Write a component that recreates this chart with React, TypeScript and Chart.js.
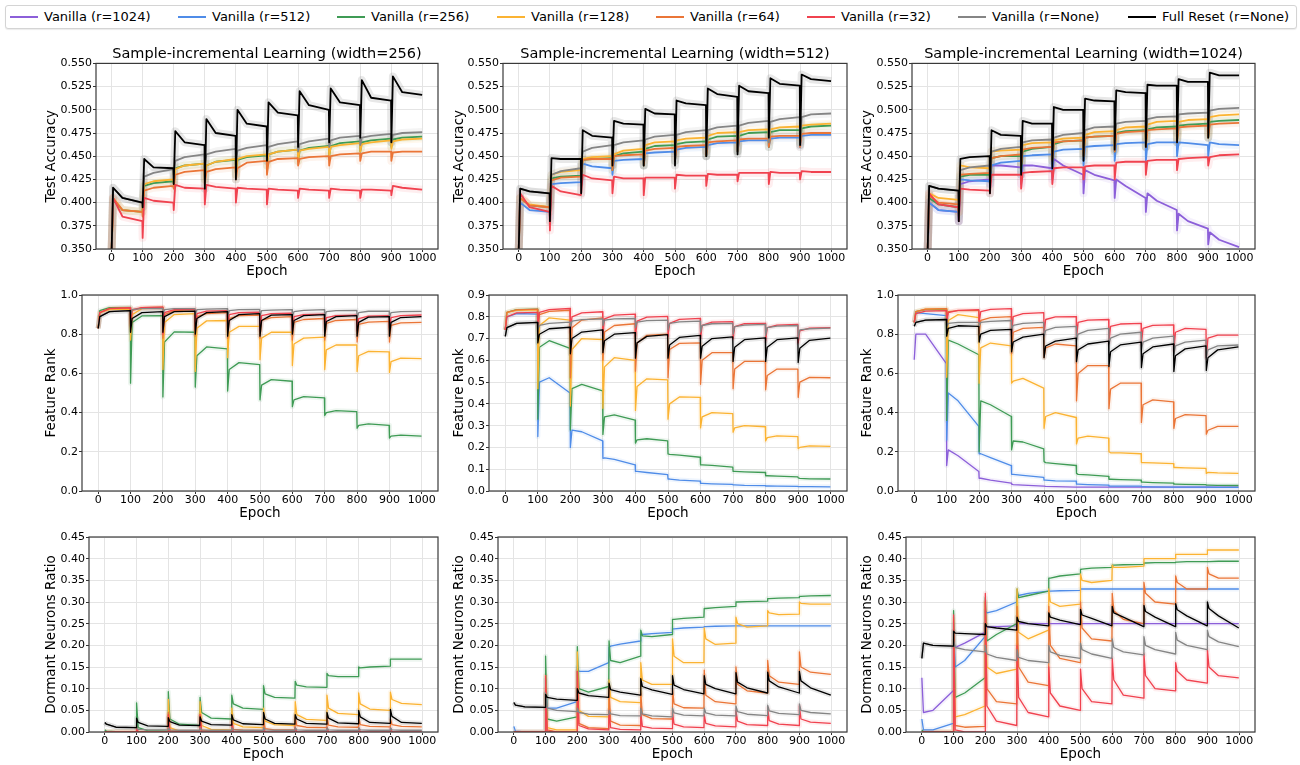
import { useEffect, useRef } from 'react';
import { Chart, registerables } from 'chart.js';

Chart.register(...registerables);
Chart.defaults.font.family = 'DejaVu Sans';

// ---------------- series meta ----------------
const seriesNames = [
  'Vanilla (r=1024)', 'Vanilla (r=512)', 'Vanilla (r=256)', 'Vanilla (r=128)',
  'Vanilla (r=64)', 'Vanilla (r=32)', 'Vanilla (r=None)', 'Full Reset (r=None)',
];
const seriesColors = ['#8c5fd9', '#4f8ce8', '#3f9b55', '#fbb332', '#ea7537', '#f0424f', '#858585', '#000000'];

// ---------------- axes ----------------
const xTicks = [0, 100, 200, 300, 400, 500, 600, 700, 800, 900, 1000];
const taskStarts = [0, 100, 200, 300, 400, 500, 600, 700, 800, 900];
const taskOffsets = [0, 5, 35, 99];
const accTicks = [0.35, 0.375, 0.4, 0.425, 0.45, 0.475, 0.5, 0.525, 0.55];
const rankTicks10 = [0, 0.2, 0.4, 0.6, 0.8, 1.0];
const rankTicks09 = [0, 0.1, 0.2, 0.3, 0.4, 0.5, 0.6, 0.7, 0.8, 0.9];
const dormTicks = [0, 0.05, 0.1, 0.15, 0.2, 0.25, 0.3, 0.35, 0.4, 0.45];

// ---------------- data: 4 values per task (epoch offsets 0,5,35,99) ----------------
// Test accuracy, width=256
const acc256R256 = [0.345,0.403,0.392,0.390, 0.390,0.418,0.421,0.423, 0.420,0.437,0.440,0.442, 0.425,0.440,0.444,0.446, 0.430,0.446,0.449,0.451, 0.440,0.452,0.455,0.457, 0.445,0.456,0.459,0.461, 0.450,0.461,0.464,0.466, 0.455,0.465,0.467,0.469, 0.460,0.468,0.470,0.471];
const acc256R128 = [0.345,0.405,0.392,0.390, 0.390,0.420,0.423,0.425, 0.420,0.436,0.440,0.442, 0.425,0.440,0.444,0.447, 0.430,0.447,0.450,0.452, 0.440,0.452,0.455,0.457, 0.445,0.456,0.458,0.460, 0.450,0.460,0.462,0.464, 0.455,0.463,0.465,0.467, 0.458,0.466,0.468,0.469];
const acc256R64 = [0.345,0.405,0.392,0.390, 0.385,0.413,0.416,0.418, 0.415,0.430,0.433,0.435, 0.420,0.433,0.436,0.438, 0.425,0.437,0.443,0.445, 0.430,0.444,0.447,0.448, 0.440,0.447,0.449,0.450, 0.440,0.450,0.452,0.453, 0.445,0.453,0.455,0.455, 0.445,0.454,0.455,0.455];
const acc256R32 = [0.345,0.405,0.385,0.380, 0.362,0.405,0.402,0.400, 0.392,0.419,0.416,0.415, 0.398,0.419,0.417,0.415, 0.400,0.416,0.415,0.414, 0.398,0.415,0.414,0.413, 0.405,0.415,0.414,0.413, 0.405,0.415,0.414,0.413, 0.405,0.414,0.414,0.413, 0.408,0.418,0.416,0.414];
const acc256None = [0.345,0.416,0.405,0.400, 0.400,0.428,0.432,0.436, 0.430,0.445,0.449,0.452, 0.440,0.452,0.455,0.458, 0.445,0.456,0.459,0.462, 0.450,0.460,0.463,0.466, 0.455,0.463,0.466,0.469, 0.460,0.467,0.470,0.472, 0.462,0.470,0.472,0.474, 0.465,0.473,0.475,0.476];
const acc256Reset = [0.345,0.416,0.405,0.400, 0.395,0.447,0.438,0.437, 0.420,0.477,0.465,0.462, 0.415,0.490,0.475,0.472, 0.425,0.500,0.485,0.482, 0.445,0.508,0.497,0.494, 0.460,0.520,0.505,0.500, 0.465,0.523,0.508,0.505, 0.470,0.532,0.513,0.510, 0.465,0.536,0.519,0.516];

// Test accuracy, width=512
const acc512R512 = [0.345,0.400,0.392,0.390, 0.385,0.420,0.421,0.422, 0.425,0.442,0.439,0.437, 0.430,0.445,0.446,0.447, 0.440,0.453,0.454,0.455, 0.445,0.457,0.459,0.460, 0.450,0.462,0.464,0.465, 0.455,0.466,0.467,0.467, 0.460,0.469,0.470,0.470, 0.460,0.472,0.473,0.473];
const acc512R256 = [0.345,0.405,0.397,0.395, 0.395,0.426,0.428,0.429, 0.430,0.446,0.447,0.448, 0.435,0.450,0.453,0.455, 0.440,0.458,0.461,0.462, 0.445,0.463,0.465,0.466, 0.450,0.468,0.471,0.472, 0.455,0.472,0.475,0.476, 0.460,0.476,0.478,0.478, 0.465,0.480,0.482,0.483];
const acc512R128 = [0.345,0.405,0.398,0.395, 0.395,0.430,0.433,0.435, 0.430,0.447,0.449,0.450, 0.440,0.452,0.456,0.458, 0.445,0.462,0.465,0.466, 0.450,0.467,0.469,0.470, 0.455,0.472,0.475,0.476, 0.460,0.476,0.478,0.479, 0.465,0.479,0.481,0.482, 0.470,0.483,0.484,0.485];
const acc512R64 = [0.345,0.405,0.397,0.395, 0.390,0.424,0.427,0.428, 0.430,0.446,0.447,0.447, 0.435,0.450,0.451,0.452, 0.440,0.456,0.458,0.459, 0.445,0.460,0.461,0.462, 0.450,0.465,0.466,0.467, 0.455,0.468,0.469,0.469, 0.460,0.471,0.472,0.472, 0.460,0.474,0.475,0.475];
const acc512R32 = [0.345,0.410,0.395,0.390, 0.370,0.418,0.412,0.408, 0.410,0.430,0.426,0.424, 0.410,0.428,0.426,0.426, 0.408,0.427,0.427,0.427, 0.415,0.430,0.429,0.429, 0.418,0.431,0.430,0.430, 0.423,0.432,0.432,0.432, 0.420,0.433,0.432,0.432, 0.425,0.434,0.433,0.433];
const acc512None = [0.345,0.415,0.412,0.410, 0.400,0.430,0.434,0.437, 0.440,0.455,0.459,0.462, 0.450,0.462,0.465,0.467, 0.455,0.468,0.471,0.473, 0.455,0.473,0.476,0.478, 0.455,0.478,0.481,0.483, 0.455,0.483,0.486,0.488, 0.465,0.487,0.490,0.492, 0.462,0.492,0.495,0.496];
const acc512Reset = [0.345,0.415,0.412,0.410, 0.380,0.448,0.447,0.447, 0.410,0.478,0.472,0.470, 0.440,0.488,0.485,0.484, 0.440,0.501,0.496,0.495, 0.440,0.510,0.507,0.505, 0.450,0.523,0.517,0.514, 0.452,0.526,0.520,0.518, 0.470,0.534,0.528,0.526, 0.462,0.538,0.533,0.531];

// Test accuracy, width=1024
const acc1024R1024 = [0.345,0.400,0.392,0.390, 0.380,0.420,0.423,0.425, 0.420,0.440,0.440,0.438, 0.420,0.440,0.440,0.437, 0.425,0.447,0.440,0.430, 0.410,0.435,0.430,0.424, 0.405,0.425,0.418,0.405, 0.390,0.410,0.402,0.392, 0.370,0.388,0.380,0.372, 0.355,0.368,0.360,0.352];
const acc1024R512 = [0.345,0.400,0.392,0.390, 0.380,0.425,0.424,0.423, 0.420,0.440,0.443,0.445, 0.430,0.450,0.451,0.452, 0.435,0.455,0.457,0.458, 0.440,0.460,0.461,0.462, 0.445,0.463,0.464,0.465, 0.445,0.463,0.465,0.465, 0.450,0.465,0.464,0.462, 0.450,0.465,0.463,0.462];
const acc1024R256 = [0.345,0.405,0.398,0.395, 0.385,0.428,0.430,0.430, 0.425,0.448,0.450,0.450, 0.435,0.455,0.458,0.460, 0.445,0.463,0.466,0.467, 0.450,0.470,0.471,0.472, 0.455,0.475,0.477,0.478, 0.460,0.479,0.481,0.482, 0.465,0.483,0.484,0.485, 0.470,0.487,0.488,0.489];
const acc1024R128 = [0.345,0.410,0.405,0.403, 0.390,0.440,0.438,0.437, 0.430,0.455,0.456,0.457, 0.440,0.462,0.464,0.465, 0.450,0.467,0.469,0.470, 0.455,0.473,0.476,0.477, 0.460,0.478,0.481,0.482, 0.465,0.484,0.487,0.488, 0.470,0.487,0.489,0.490, 0.475,0.492,0.494,0.495];
const acc1024R64 = [0.345,0.408,0.400,0.398, 0.390,0.430,0.431,0.432, 0.430,0.448,0.450,0.452, 0.440,0.457,0.459,0.460, 0.445,0.465,0.466,0.467, 0.450,0.470,0.471,0.472, 0.455,0.474,0.476,0.477, 0.460,0.478,0.479,0.480, 0.465,0.481,0.482,0.483, 0.470,0.484,0.485,0.486];
const acc1024R32 = [0.345,0.410,0.398,0.395, 0.380,0.415,0.414,0.413, 0.410,0.430,0.430,0.430, 0.415,0.432,0.433,0.434, 0.420,0.437,0.438,0.438, 0.425,0.439,0.440,0.440, 0.425,0.443,0.444,0.444, 0.430,0.445,0.446,0.446, 0.435,0.447,0.448,0.449, 0.440,0.449,0.451,0.452];
const acc1024None = [0.345,0.418,0.415,0.413, 0.400,0.435,0.438,0.440, 0.430,0.455,0.458,0.460, 0.450,0.465,0.467,0.468, 0.455,0.470,0.473,0.475, 0.460,0.478,0.481,0.482, 0.465,0.485,0.487,0.488, 0.470,0.490,0.492,0.493, 0.475,0.495,0.496,0.497, 0.480,0.499,0.501,0.502];
const acc1024Reset = [0.345,0.418,0.415,0.413, 0.380,0.447,0.449,0.450, 0.410,0.478,0.473,0.472, 0.430,0.488,0.485,0.485, 0.437,0.503,0.500,0.500, 0.445,0.512,0.510,0.509, 0.457,0.521,0.519,0.518, 0.460,0.527,0.526,0.526, 0.465,0.533,0.530,0.530, 0.470,0.540,0.537,0.537];

// Feature rank, width=256
const rank256R256 = [0.83,0.92,0.935,0.937, 0.55,0.86,0.893,0.895, 0.48,0.76,0.812,0.810, 0.53,0.69,0.735,0.725, 0.51,0.62,0.655,0.645, 0.465,0.54,0.568,0.560, 0.43,0.465,0.482,0.475, 0.385,0.40,0.410,0.405, 0.32,0.335,0.342,0.335, 0.27,0.28,0.285,0.280];
const rank256R128 = [0.83,0.91,0.925,0.928, 0.77,0.90,0.930,0.935, 0.62,0.86,0.900,0.905, 0.61,0.83,0.868,0.870, 0.68,0.81,0.840,0.840, 0.67,0.78,0.810,0.810, 0.64,0.75,0.780,0.785, 0.62,0.72,0.745,0.745, 0.61,0.69,0.712,0.710, 0.605,0.66,0.678,0.675];
const rank256R64 = [0.83,0.91,0.932,0.935, 0.83,0.92,0.935,0.938, 0.78,0.90,0.920,0.925, 0.79,0.89,0.905,0.910, 0.78,0.88,0.895,0.898, 0.78,0.87,0.885,0.890, 0.77,0.86,0.875,0.880, 0.77,0.855,0.870,0.875, 0.76,0.85,0.862,0.865, 0.76,0.845,0.858,0.860];
const rank256R32 = [0.83,0.91,0.930,0.935, 0.85,0.925,0.935,0.938, 0.80,0.91,0.925,0.928, 0.82,0.905,0.918,0.920, 0.82,0.90,0.910,0.912, 0.82,0.895,0.905,0.907, 0.82,0.89,0.900,0.902, 0.82,0.885,0.895,0.897, 0.82,0.88,0.892,0.895, 0.83,0.885,0.895,0.898];
const rank256None = [0.83,0.89,0.915,0.920, 0.90,0.925,0.930,0.932, 0.90,0.925,0.930,0.930, 0.90,0.925,0.928,0.930, 0.895,0.92,0.925,0.927, 0.895,0.92,0.923,0.925, 0.89,0.915,0.922,0.925, 0.89,0.915,0.920,0.922, 0.885,0.91,0.917,0.918, 0.885,0.91,0.915,0.916];
const rank256Reset = [0.83,0.89,0.915,0.920, 0.81,0.88,0.910,0.915, 0.81,0.89,0.915,0.918, 0.80,0.88,0.910,0.915, 0.79,0.87,0.900,0.905, 0.79,0.87,0.897,0.900, 0.80,0.87,0.895,0.900, 0.79,0.865,0.890,0.895, 0.79,0.86,0.887,0.890, 0.79,0.86,0.885,0.890];

// Feature rank, width=512
const rank512R512 = [0.74,0.80,0.815,0.812, 0.25,0.50,0.520,0.450, 0.20,0.28,0.272,0.230, 0.15,0.152,0.145,0.120, 0.09,0.09,0.085,0.075, 0.055,0.055,0.050,0.045, 0.035,0.035,0.033,0.030, 0.028,0.028,0.026,0.025, 0.023,0.023,0.022,0.021, 0.020,0.020,0.020,0.019];
const rank512R256 = [0.74,0.82,0.833,0.835, 0.33,0.66,0.690,0.655, 0.28,0.47,0.490,0.460, 0.26,0.34,0.350,0.325, 0.22,0.235,0.240,0.230, 0.17,0.168,0.165,0.155, 0.12,0.12,0.118,0.110, 0.09,0.09,0.088,0.085, 0.07,0.07,0.068,0.065, 0.06,0.058,0.056,0.055];
const rank512R128 = [0.74,0.82,0.830,0.832, 0.47,0.76,0.795,0.785, 0.39,0.65,0.700,0.695, 0.38,0.57,0.612,0.600, 0.37,0.48,0.515,0.510, 0.33,0.40,0.432,0.430, 0.29,0.34,0.360,0.355, 0.27,0.29,0.300,0.295, 0.23,0.245,0.253,0.250, 0.195,0.20,0.207,0.205];
const rank512R64 = [0.74,0.82,0.832,0.835, 0.72,0.81,0.825,0.830, 0.52,0.75,0.785,0.795, 0.60,0.73,0.760,0.768, 0.55,0.68,0.715,0.720, 0.52,0.65,0.678,0.680, 0.49,0.60,0.635,0.635, 0.47,0.56,0.595,0.595, 0.465,0.53,0.560,0.560, 0.43,0.50,0.522,0.520];
const rank512R32 = [0.74,0.80,0.818,0.820, 0.76,0.82,0.833,0.838, 0.73,0.80,0.818,0.823, 0.72,0.79,0.808,0.812, 0.71,0.78,0.798,0.802, 0.71,0.77,0.788,0.793, 0.70,0.76,0.775,0.778, 0.70,0.755,0.768,0.770, 0.69,0.75,0.762,0.765, 0.68,0.735,0.748,0.750];
const rank512None = [0.71,0.75,0.770,0.774, 0.74,0.76,0.770,0.775, 0.75,0.78,0.787,0.790, 0.76,0.785,0.790,0.792, 0.75,0.775,0.782,0.785, 0.74,0.77,0.777,0.780, 0.73,0.76,0.768,0.770, 0.72,0.755,0.762,0.765, 0.715,0.75,0.757,0.760, 0.70,0.74,0.745,0.748];
const rank512Reset = [0.71,0.75,0.770,0.774, 0.68,0.72,0.745,0.752, 0.63,0.70,0.730,0.740, 0.635,0.69,0.720,0.727, 0.61,0.68,0.710,0.718, 0.61,0.67,0.705,0.715, 0.61,0.665,0.700,0.708, 0.595,0.66,0.695,0.703, 0.595,0.66,0.695,0.703, 0.59,0.655,0.692,0.702];

// Feature rank, width=1024
const rank1024R1024 = [0.67,0.80,0.800,0.650, 0.13,0.21,0.180,0.100, 0.065,0.065,0.055,0.040, 0.035,0.033,0.030,0.025, 0.025,0.024,0.022,0.020, 0.02,0.02,0.02,0.02, 0.02,0.02,0.02,0.02, 0.02,0.02,0.02,0.02, 0.02,0.02,0.02,0.02, 0.02,0.02,0.02,0.02];
const rank1024R512 = [0.86,0.91,0.905,0.895, 0.26,0.50,0.460,0.330, 0.19,0.19,0.170,0.130, 0.085,0.085,0.080,0.070, 0.055,0.055,0.052,0.050, 0.035,0.035,0.033,0.030, 0.025,0.025,0.025,0.025, 0.022,0.022,0.021,0.020, 0.02,0.02,0.02,0.02, 0.02,0.02,0.018,0.018];
const rank1024R256 = [0.86,0.915,0.925,0.925, 0.36,0.77,0.750,0.695, 0.20,0.46,0.440,0.380, 0.21,0.255,0.250,0.215, 0.15,0.145,0.140,0.130, 0.09,0.085,0.082,0.075, 0.06,0.06,0.058,0.055, 0.045,0.045,0.043,0.040, 0.035,0.035,0.034,0.033, 0.03,0.03,0.029,0.028];
const rank1024R128 = [0.86,0.915,0.928,0.930, 0.58,0.87,0.900,0.885, 0.55,0.73,0.755,0.740, 0.55,0.56,0.575,0.525, 0.32,0.38,0.400,0.375, 0.24,0.27,0.280,0.270, 0.20,0.195,0.195,0.190, 0.145,0.145,0.143,0.140, 0.12,0.12,0.118,0.115, 0.09,0.095,0.092,0.090];
const rank1024R64 = [0.86,0.915,0.928,0.930, 0.88,0.915,0.920,0.920, 0.80,0.87,0.885,0.890, 0.70,0.81,0.830,0.835, 0.68,0.73,0.750,0.740, 0.46,0.60,0.640,0.640, 0.42,0.52,0.550,0.550, 0.35,0.44,0.465,0.455, 0.32,0.37,0.390,0.385, 0.29,0.31,0.330,0.330];
const rank1024R32 = [0.86,0.905,0.918,0.920, 0.86,0.91,0.922,0.925, 0.86,0.915,0.927,0.930, 0.80,0.89,0.905,0.910, 0.80,0.875,0.888,0.890, 0.78,0.86,0.872,0.875, 0.76,0.84,0.852,0.855, 0.75,0.83,0.845,0.848, 0.72,0.81,0.830,0.825, 0.68,0.78,0.795,0.795];
const rank1024None = [0.84,0.86,0.872,0.875, 0.84,0.855,0.860,0.860, 0.84,0.86,0.865,0.870, 0.82,0.845,0.855,0.860, 0.79,0.82,0.835,0.840, 0.77,0.80,0.820,0.830, 0.75,0.78,0.800,0.810, 0.72,0.76,0.780,0.790, 0.70,0.74,0.760,0.770, 0.68,0.72,0.740,0.745];
const rank1024Reset = [0.84,0.86,0.872,0.875, 0.79,0.83,0.843,0.840, 0.76,0.80,0.820,0.825, 0.71,0.76,0.785,0.800, 0.68,0.74,0.765,0.780, 0.66,0.72,0.750,0.765, 0.635,0.71,0.745,0.760, 0.63,0.70,0.735,0.750, 0.61,0.69,0.725,0.740, 0.615,0.68,0.720,0.735];

// Dormant neurons ratio, width=256
const dorm256R256 = [0.005,0.002,0.001,0.001, 0.067,0.010,0.003,0.002, 0.093,0.030,0.018,0.015, 0.080,0.045,0.032,0.030, 0.085,0.065,0.055,0.052, 0.107,0.088,0.080,0.078, 0.117,0.108,0.104,0.103, 0.135,0.130,0.128,0.128, 0.150,0.148,0.150,0.152, 0.168,0.168,0.168,0.168];
const dorm256R128 = [0,0,0,0, 0.010,0.001,0,0, 0.075,0.010,0.002,0.001, 0.070,0.015,0.006,0.005, 0.055,0.020,0.012,0.010, 0.055,0.025,0.017,0.015, 0.070,0.040,0.029,0.027, 0.085,0.055,0.043,0.040, 0.090,0.065,0.053,0.050, 0.092,0.075,0.066,0.063];
const dorm256R64 = [0,0,0,0, 0.005,0,0,0, 0.045,0.003,0.001,0, 0.040,0.004,0.002,0.002, 0.030,0.006,0.004,0.003, 0.030,0.008,0.005,0.005, 0.035,0.015,0.011,0.010, 0.035,0.016,0.012,0.011, 0.035,0.017,0.013,0.012, 0.030,0.017,0.013,0.012];
const dorm256R32 = [0,0,0,0, 0.010,0,0,0, 0.040,0.001,0,0, 0.040,0.001,0,0, 0.020,0.001,0,0, 0.010,0.001,0,0, 0.010,0.001,0,0, 0.010,0.001,0,0, 0.010,0.001,0,0, 0.010,0.001,0,0];
const dorm256None = [0.022,0.018,0.011,0.010, 0.010,0.006,0.005,0.005, 0.010,0.005,0.004,0.004, 0.010,0.005,0.004,0.004, 0.010,0.005,0.004,0.004, 0.010,0.005,0.004,0.004, 0.010,0.005,0.004,0.004, 0.010,0.005,0.004,0.004, 0.010,0.005,0.004,0.004, 0.010,0.005,0.004,0.004];
const dorm256Reset = [0.022,0.018,0.011,0.010, 0.032,0.022,0.014,0.013, 0.033,0.024,0.016,0.015, 0.035,0.025,0.017,0.016, 0.040,0.028,0.019,0.017, 0.045,0.030,0.020,0.018, 0.040,0.030,0.020,0.018, 0.045,0.032,0.021,0.019, 0.050,0.035,0.022,0.020, 0.052,0.036,0.022,0.020];

// Dormant neurons ratio, width=512
const dorm512R512 = [0.013,0.002,0,0, 0.120,0.055,0.055,0.070, 0.150,0.140,0.140,0.160, 0.195,0.198,0.203,0.210, 0.225,0.225,0.227,0.230, 0.238,0.238,0.240,0.242, 0.243,0.243,0.244,0.245, 0.245,0.245,0.245,0.245, 0.245,0.245,0.245,0.245, 0.245,0.245,0.245,0.245];
const dorm512R256 = [0,0,0,0, 0.175,0.030,0.025,0.035, 0.197,0.100,0.092,0.105, 0.210,0.165,0.160,0.175, 0.235,0.222,0.220,0.225, 0.260,0.260,0.262,0.265, 0.285,0.285,0.287,0.290, 0.300,0.300,0.301,0.302, 0.308,0.308,0.309,0.310, 0.313,0.313,0.314,0.315];
const dorm512R128 = [0,0,0,0, 0.130,0.010,0.005,0.005, 0.185,0.050,0.036,0.035, 0.120,0.080,0.070,0.068, 0.160,0.120,0.110,0.110, 0.215,0.175,0.160,0.160, 0.240,0.215,0.202,0.205, 0.265,0.250,0.242,0.245, 0.280,0.275,0.271,0.272, 0.300,0.297,0.295,0.295];
const dorm512R64 = [0,0,0,0, 0.100,0.005,0,0, 0.140,0.020,0.010,0.008, 0.100,0.025,0.016,0.015, 0.090,0.040,0.031,0.030, 0.100,0.065,0.056,0.055, 0.143,0.085,0.070,0.065, 0.150,0.110,0.095,0.090, 0.165,0.130,0.115,0.110, 0.185,0.150,0.138,0.133];
const dorm512R32 = [0,0,0,0, 0.130,0.002,0,0, 0.140,0.015,0.007,0.005, 0.050,0.010,0.006,0.005, 0.045,0.013,0.009,0.008, 0.045,0.018,0.012,0.010, 0.040,0.020,0.014,0.012, 0.050,0.025,0.017,0.015, 0.055,0.026,0.018,0.015, 0.060,0.030,0.023,0.020];
const dorm512None = [0.068,0.062,0.058,0.057, 0.090,0.055,0.050,0.047, 0.055,0.045,0.041,0.040, 0.050,0.042,0.038,0.037, 0.055,0.042,0.037,0.035, 0.055,0.044,0.039,0.037, 0.055,0.044,0.039,0.037, 0.060,0.047,0.041,0.038, 0.062,0.049,0.043,0.040, 0.065,0.050,0.045,0.042];
const dorm512Reset = [0.068,0.062,0.058,0.057, 0.087,0.080,0.076,0.073, 0.100,0.090,0.084,0.080, 0.113,0.098,0.092,0.085, 0.123,0.105,0.097,0.087, 0.130,0.108,0.098,0.088, 0.130,0.110,0.100,0.088, 0.137,0.115,0.102,0.090, 0.138,0.118,0.104,0.090, 0.140,0.118,0.102,0.085];

// Dormant neurons ratio, width=1024
const dorm1024R1024 = [0.125,0.045,0.050,0.095, 0.195,0.195,0.205,0.230, 0.240,0.242,0.243,0.245, 0.250,0.250,0.250,0.250, 0.250,0.250,0.250,0.250, 0.250,0.250,0.250,0.250, 0.250,0.250,0.250,0.250, 0.250,0.250,0.250,0.250, 0.250,0.250,0.250,0.250, 0.250,0.250,0.250,0.250];
const dorm1024R512 = [0.030,0.005,0.005,0.020, 0.250,0.150,0.165,0.220, 0.280,0.275,0.280,0.300, 0.310,0.315,0.320,0.325, 0.325,0.325,0.326,0.327, 0.330,0.330,0.330,0.330, 0.330,0.330,0.330,0.330, 0.330,0.330,0.330,0.330, 0.330,0.330,0.330,0.330, 0.330,0.330,0.330,0.330];
const dorm1024R256 = [0.005,0.001,0,0, 0.280,0.080,0.090,0.125, 0.310,0.210,0.225,0.250, 0.330,0.310,0.315,0.325, 0.355,0.355,0.360,0.365, 0.375,0.376,0.378,0.380, 0.385,0.385,0.386,0.387, 0.390,0.390,0.391,0.391, 0.392,0.392,0.393,0.393, 0.393,0.393,0.394,0.394];
const dorm1024R128 = [0,0,0,0, 0.260,0.035,0.040,0.060, 0.300,0.150,0.135,0.145, 0.330,0.230,0.215,0.235, 0.330,0.300,0.290,0.295, 0.365,0.350,0.345,0.350, 0.385,0.380,0.380,0.383, 0.400,0.400,0.400,0.400, 0.410,0.410,0.410,0.410, 0.420,0.420,0.420,0.420];
const dorm1024R64 = [0,0,0,0, 0.200,0.015,0.011,0.013, 0.300,0.100,0.070,0.065, 0.290,0.150,0.115,0.107, 0.290,0.200,0.170,0.160, 0.300,0.240,0.215,0.210, 0.320,0.280,0.260,0.250, 0.345,0.320,0.300,0.295, 0.360,0.345,0.330,0.330, 0.380,0.365,0.355,0.355];
const dorm1024R32 = [0,0,0,0, 0.270,0.005,0,0, 0.320,0.060,0.025,0.015, 0.200,0.080,0.045,0.035, 0.150,0.090,0.060,0.050, 0.145,0.100,0.070,0.065, 0.170,0.120,0.085,0.078, 0.180,0.130,0.100,0.095, 0.160,0.140,0.120,0.113, 0.190,0.150,0.130,0.125];
const dorm1024None = [0.170,0.205,0.200,0.198, 0.210,0.195,0.190,0.185, 0.200,0.180,0.172,0.165, 0.190,0.172,0.165,0.160, 0.200,0.185,0.177,0.170, 0.205,0.190,0.180,0.170, 0.215,0.195,0.185,0.178, 0.220,0.200,0.190,0.180, 0.230,0.212,0.200,0.190, 0.235,0.220,0.208,0.197];
const dorm1024Reset = [0.170,0.205,0.200,0.198, 0.233,0.228,0.227,0.225, 0.250,0.243,0.240,0.235, 0.265,0.255,0.250,0.245, 0.275,0.265,0.258,0.248, 0.283,0.270,0.262,0.245, 0.290,0.275,0.265,0.243, 0.292,0.278,0.265,0.243, 0.296,0.282,0.268,0.245, 0.300,0.285,0.268,0.240];

// ---------------- panel specs ----------------
type Spec = {
  title?: string; yLabel: string; yMin: number; yMax: number; yTicks: number[]; dec: number;
  lw: number; halo: number; series: [number, number[]][];
};

const panels: Spec[] = [
  { title: 'Sample-incremental Learning (width=256)', yLabel: 'Test Accuracy', yMin: 0.35, yMax: 0.55, yTicks: accTicks, dec: 3, lw: 1.8, halo: 8,
    series: [[2, acc256R256], [3, acc256R128], [4, acc256R64], [5, acc256R32], [6, acc256None], [7, acc256Reset]] },
  { title: 'Sample-incremental Learning (width=512)', yLabel: 'Test Accuracy', yMin: 0.35, yMax: 0.55, yTicks: accTicks, dec: 3, lw: 1.8, halo: 8,
    series: [[1, acc512R512], [2, acc512R256], [3, acc512R128], [4, acc512R64], [5, acc512R32], [6, acc512None], [7, acc512Reset]] },
  { title: 'Sample-incremental Learning (width=1024)', yLabel: 'Test Accuracy', yMin: 0.35, yMax: 0.55, yTicks: accTicks, dec: 3, lw: 1.8, halo: 8,
    series: [[0, acc1024R1024], [1, acc1024R512], [2, acc1024R256], [3, acc1024R128], [4, acc1024R64], [5, acc1024R32], [6, acc1024None], [7, acc1024Reset]] },
  { yLabel: 'Feature Rank', yMin: 0, yMax: 1.0, yTicks: rankTicks10, dec: 1, lw: 1.3, halo: 5,
    series: [[2, rank256R256], [3, rank256R128], [4, rank256R64], [5, rank256R32], [6, rank256None], [7, rank256Reset]] },
  { yLabel: 'Feature Rank', yMin: 0, yMax: 0.9, yTicks: rankTicks09, dec: 1, lw: 1.3, halo: 5,
    series: [[1, rank512R512], [2, rank512R256], [3, rank512R128], [4, rank512R64], [5, rank512R32], [6, rank512None], [7, rank512Reset]] },
  { yLabel: 'Feature Rank', yMin: 0, yMax: 1.0, yTicks: rankTicks10, dec: 1, lw: 1.3, halo: 5,
    series: [[0, rank1024R1024], [1, rank1024R512], [2, rank1024R256], [3, rank1024R128], [4, rank1024R64], [5, rank1024R32], [6, rank1024None], [7, rank1024Reset]] },
  { yLabel: 'Dormant Neurons Ratio', yMin: 0, yMax: 0.45, yTicks: dormTicks, dec: 2, lw: 1.3, halo: 5,
    series: [[2, dorm256R256], [3, dorm256R128], [4, dorm256R64], [5, dorm256R32], [6, dorm256None], [7, dorm256Reset]] },
  { yLabel: 'Dormant Neurons Ratio', yMin: 0, yMax: 0.45, yTicks: dormTicks, dec: 2, lw: 1.3, halo: 5,
    series: [[1, dorm512R512], [2, dorm512R256], [3, dorm512R128], [4, dorm512R64], [5, dorm512R32], [6, dorm512None], [7, dorm512Reset]] },
  { yLabel: 'Dormant Neurons Ratio', yMin: 0, yMax: 0.45, yTicks: dormTicks, dec: 2, lw: 1.3, halo: 5,
    series: [[0, dorm1024R1024], [1, dorm1024R512], [2, dorm1024R256], [3, dorm1024R128], [4, dorm1024R64], [5, dorm1024R32], [6, dorm1024None], [7, dorm1024Reset]] },
];

// canvas boxes (layout only)
type Box = { x: number; y: number; w: number; h: number; yw: number; xh: number; padTop: number };
const boxes: Box[] = [
  { x: 43, y: 46, w: 405, h: 234, yw: 53, xh: 31, padTop: 0 },
  { x: 451, y: 46, w: 406, h: 234, yw: 52, xh: 31, padTop: 0 },
  { x: 859, y: 46, w: 406, h: 234, yw: 53, xh: 31, padTop: 0 },
  { x: 43, y: 285, w: 405, h: 237, yw: 39, xh: 31, padTop: 10 },
  { x: 451, y: 285, w: 406, h: 237, yw: 38, xh: 31, padTop: 10 },
  { x: 859, y: 285, w: 406, h: 237, yw: 39, xh: 31, padTop: 10 },
  { x: 43, y: 527, w: 405, h: 236, yw: 46, xh: 31, padTop: 10 },
  { x: 451, y: 527, w: 406, h: 236, yw: 47, xh: 31, padTop: 10 },
  { x: 859, y: 527, w: 406, h: 236, yw: 47, xh: 31, padTop: 10 },
];

const legendX = [10, 178, 337, 497, 656, 807, 958, 1128];

function toPoints(vals: number[]) {
  const pts: { x: number; y: number }[] = [];
  taskStarts.forEach((s, k) => {
    taskOffsets.forEach((o, j) => pts.push({ x: s + o, y: vals[k * taskOffsets.length + j] }));
  });
  return pts;
}

function withAlpha(hex: string, a: number) {
  const n = parseInt(hex.slice(1), 16);
  return `rgba(${(n >> 16) & 255},${(n >> 8) & 255},${n & 255},${a})`;
}

const framePlugin = {
  id: 'frame',
  afterDatasetsDraw(chart: any) {
    const { ctx, chartArea: a } = chart;
    ctx.save();
    ctx.strokeStyle = '#3a3a3a';
    ctx.lineWidth = 1.2;
    ctx.strokeRect(a.left, a.top, a.right - a.left, a.bottom - a.top);
    ctx.restore();
  },
};

const GRID = '#e4e4e4';

function Panel({ spec, box }: { spec: Spec; box: Box }) {
  const ref = useRef<HTMLCanvasElement>(null);
  useEffect(() => {
    const datasets: any[] = [];
    spec.series.forEach(([idx, vals]) => {
      datasets.push({
        data: toPoints(vals), borderColor: withAlpha(seriesColors[idx], 0.09), borderWidth: spec.halo,
        order: 20 + (7 - idx), pointRadius: 0, fill: false,
      });
      datasets.push({
        label: seriesNames[idx], data: toPoints(vals), borderColor: seriesColors[idx], borderWidth: spec.lw,
        order: 7 - idx, pointRadius: 0, fill: false,
      });
    });
    const tickFont = { size: 11, family: 'DejaVu Sans' };
    const titleFont = { size: 13.5, family: 'DejaVu Sans' };
    const chart = new Chart(ref.current as HTMLCanvasElement, {
      type: 'line',
      data: { datasets },
      plugins: [framePlugin],
      options: {
        responsive: false,
        animation: false,
        devicePixelRatio: 1,
        layout: { padding: { top: box.padTop, right: 10, bottom: 0, left: 0 } },
        elements: { line: { tension: 0, borderJoinStyle: 'round' }, point: { radius: 0 } },
        plugins: {
          legend: { display: false },
          tooltip: { enabled: false },
          title: spec.title
            ? { display: true, text: spec.title, color: '#000', fullSize: false, font: { size: 14.5, family: 'DejaVu Sans', weight: 'normal' }, padding: { top: 0, bottom: 0 } }
            : { display: false },
        },
        scales: {
          x: {
            type: 'linear', min: -50, max: 1050,
            afterBuildTicks: (s: any) => { s.ticks = xTicks.map((v) => ({ value: v })); },
            afterFit: (s: any) => { s.height = box.xh; },
            ticks: { autoSkip: false, maxRotation: 0, padding: 0, color: '#000', font: tickFont, callback: (v: any) => String(v) },
            grid: { color: GRID, lineWidth: 1, tickLength: 3, tickColor: '#333', drawTicks: true },
            border: { display: false },
            title: { display: true, text: 'Epoch', color: '#000', font: titleFont, padding: 0 },
          },
          y: {
            type: 'linear', min: spec.yMin, max: spec.yMax,
            afterBuildTicks: (s: any) => { s.ticks = spec.yTicks.map((v) => ({ value: v })); },
            afterFit: (s: any) => { s.width = box.yw; },
            ticks: { autoSkip: false, padding: 1, color: '#000', font: tickFont, callback: (v: any) => Number(v).toFixed(spec.dec) },
            grid: { color: GRID, lineWidth: 1, tickLength: 3, tickColor: '#333', drawTicks: true },
            border: { display: false },
            title: { display: true, text: spec.yLabel, color: '#000', font: titleFont, padding: 0 },
          },
        },
      } as any,
    });
    return () => chart.destroy();
  }, []);
  return (
    <canvas ref={ref} width={box.w} height={box.h}
      style={{ position: 'absolute', left: box.x, top: box.y, width: box.w, height: box.h }} />
  );
}

function Legend() {
  return (
    <div style={{ position: 'absolute', left: 5, top: 5, width: 1290, height: 22, border: '1px solid #d4d4d4', borderRadius: 3, background: '#fff', boxShadow: '0 1px 1px rgba(0,0,0,0.08)' }}>
      {seriesNames.map((n, i) => (
        <div key={n} style={{ position: 'absolute', left: legendX[i] - 6, top: 0, height: 22, display: 'flex', alignItems: 'center' }}>
          <div style={{ width: 28, height: 2, background: seriesColors[i] }} />
          <span style={{ marginLeft: 6, fontFamily: 'DejaVu Sans', fontSize: 13, color: '#000', whiteSpace: 'nowrap', lineHeight: '22px' }}>{n}</span>
        </div>
      ))}
    </div>
  );
}

export default function App() {
  return (
    <div style={{ position: 'absolute', left: 0, top: 0, width: 1300, height: 765, background: '#fff', overflow: 'hidden' }}>
      <Legend />
      {panels.map((p, i) => <Panel key={i} spec={p} box={boxes[i]} />)}
    </div>
  );
}
